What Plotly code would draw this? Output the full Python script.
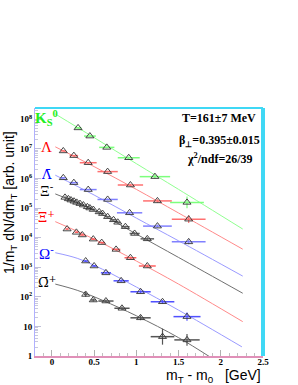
import math
import plotly.graph_objects as go

# ---------------- data ----------------
k0_x = [0.31, 0.45, 0.65, 0.91, 1.22, 1.60]
k0_y = [5.1e7, 2.7e7, 1.12e7, 5.0e6, 1.15e6, 1.55e5]
k0_xe = [0.04, 0.07, 0.09, 0.13, 0.18, 0.20]
k0_ye = [0.02, 0.02, 0.03, 0.04, 0.06, 0.20]

lam_x = [0.135, 0.26, 0.43, 0.66, 0.93, 1.25, 1.62]
lam_y = [8.5e6, 5.9e6, 3.4e6, 1.7e6, 6.0e5, 1.74e5, 4.2e4]
lam_xe = [0.03, 0.05, 0.10, 0.12, 0.15, 0.17, 0.20]
lam_ye = [0.02, 0.02, 0.02, 0.03, 0.04, 0.06, 0.13]

alam_x = [0.135, 0.26, 0.43, 0.66, 0.92, 1.25, 1.62]
alam_y = [1.05e6, 7.2e5, 4.2e5, 1.95e5, 6.9e4, 2.45e4, 7.2e3]
alam_xe = [0.03, 0.05, 0.10, 0.12, 0.15, 0.17, 0.20]
alam_ye = [0.02, 0.02, 0.02, 0.03, 0.04, 0.05, 0.08]

xi_x = [0.155, 0.195, 0.226, 0.262, 0.294, 0.333, 0.373, 0.42, 0.45, 0.49,
        0.56, 0.60, 0.66, 0.73, 0.78, 0.87, 0.98, 1.13]
xi_y = [2.29e5, 2.04e5, 1.86e5, 1.70e5, 1.55e5, 1.41e5, 1.26e5, 1.10e5, 1.0e5, 8.9e4,
        7.4e4, 6.5e4, 5.1e4, 4.0e4, 3.3e4, 2.34e4, 1.38e4, 9.1e3]
xi_xe = [0.015, 0.015, 0.015, 0.015, 0.015, 0.015, 0.015, 0.015, 0.015, 0.02,
         0.02, 0.02, 0.03, 0.03, 0.03, 0.05, 0.06, 0.08]
xi_ye = [0.02] * 15 + [0.03, 0.04, 0.05]

axi_x = [0.18, 0.29, 0.36, 0.49, 0.59, 0.76, 0.93, 1.13]
axi_y = [1.95e4, 1.51e4, 1.23e4, 8.9e3, 6.8e3, 4.0e3, 2.09e3, 1.10e3]
axi_xe = [0.02, 0.02, 0.03, 0.03, 0.04, 0.05, 0.07, 0.10]
axi_ye = [0.02, 0.02, 0.02, 0.03, 0.03, 0.03, 0.04, 0.05]

om_x = [0.40, 0.50, 0.64, 0.82, 1.05, 1.31, 1.60]
om_y = [1.62e3, 1.10e3, 645, 347, 148, 68, 21.4]
om_xe = [0.03, 0.03, 0.06, 0.09, 0.12, 0.14, 0.16]
om_ye = [0.03, 0.03, 0.03, 0.04, 0.05, 0.06, 0.14]

aom_x = [0.40, 0.49, 0.64, 0.83, 1.05, 1.31, 1.60]
aom_y = [120, 78, 72, 41, 19.5, 4.5, 3.5]
aom_xe = [0.02, 0.03, 0.09, 0.09, 0.12, 0.14, 0.15]
aom_ye = [0.08, 0.05, 0.05, 0.06, 0.08, 0.27, 0.20]

# blast-wave fit curves
fit_x = [0.04, 0.5, 1.0, 1.5, 2.26]
k0_fit = [1.51e8, 2.4e7, 3.16e6, 4.27e5, 1.95e4]
lam_fit = [1.17e7, 2.51e6, 4.27e5, 6.8e4, 4.07e3]
alam_fit = [1.29e6, 2.75e5, 4.57e4, 7.8e3, 501]
xi_fit = [3.0e5, 8.3e4, 1.32e4, 2.14e3, 132]
axi_fit = [3.47e4, 8.9e3, 1.62e3, 269, 14.5]
om_fit_x = [0.04, 0.3, 0.6, 1.0, 1.5, 2.25]
om_fit = [3.09e3, 2.0e3, 851, 214, 35.5, 2.04]
aom_fit_x = [0.04, 0.3, 0.6, 1.0, 1.5, 1.88]
aom_fit = [269, 166, 76, 22.9, 4.17, 0.9]

x_tickvals = [0, 0.5, 1, 1.5, 2, 2.5]
x_ticktext = ["0", "0.5", "1", "1.5", "2", "2.5"]
y_tickvals = [1, 10, 1e2, 1e3, 1e4, 1e5, 1e6, 1e7, 1e8]
y_ticktext = ["1", "10", "10<sup>2</sup>", "10<sup>3</sup>", "10<sup>4</sup>",
              "10<sup>5</sup>", "10<sup>6</sup>", "10<sup>7</sup>", "10<sup>8</sup>"]

SERIF = "Liberation Serif"
SERIF2 = "DejaVu Serif"
series = [
    # x, y, xe, ye, fitx, fity, line color, err color, label, label color, label y, label font
    (k0_x, k0_y, k0_xe, k0_ye, fit_x, k0_fit, "#90ff90", "#7dff7d", "<b>K<sub>S</sub><sup>0</sup></b>", "#22ee22", 1.1e8, SERIF),
    (lam_x, lam_y, lam_xe, lam_ye, fit_x, lam_fit, "#ff8a8a", "#ff7070", "Λ", "#ff0000", 1.15e7, SERIF),
    (alam_x, alam_y, alam_xe, alam_ye, fit_x, alam_fit, "#9a9aff", "#8080ff", "Λ\u0304", "#0000ff", 1.4e6, SERIF2),
    (xi_x, xi_y, xi_xe, xi_ye, fit_x, xi_fit, "#707070", "#606060", "Ξ<sup>-</sup>", "#000000", 4.0e5, SERIF),
    (axi_x, axi_y, axi_xe, axi_ye, fit_x, axi_fit, "#ff8a8a", "#ff6060", "Ξ\u0304<sup>+</sup>", "#ff0000", 5.0e4, SERIF2),
    (om_x, om_y, om_xe, om_ye, om_fit_x, om_fit, "#9a9aff", "#5050ff", "Ω<sup>-</sup>", "#0000ff", 3.0e3, SERIF),
    (aom_x, aom_y, aom_xe, aom_ye, aom_fit_x, aom_fit, "#707070", "#555555", "Ω\u0304<sup>+</sup>", "#000000", 3.2e2, SERIF2),
]

fig = go.Figure()
annotations = []
for (x, y, xe, ye, fx, fy, lc, ec, lab, labc, laby, lfont) in series:
    fig.add_trace(go.Scatter(x=fx, y=fy, mode="lines", line=dict(color=lc, width=1, shape="spline"),
                             hoverinfo="skip", showlegend=False))
    up = [v * (10 ** e - 1) for v, e in zip(y, ye)]
    dn = [v * (1 - 10 ** -e) for v, e in zip(y, ye)]
    fig.add_trace(go.Scatter(
        x=x, y=y, mode="markers",
        marker=dict(symbol="triangle-up-open", size=7, color="#333333", line=dict(width=0.9)),
        error_x=dict(type="data", array=xe, color=ec, thickness=1.5, width=0),
        error_y=dict(type="data", array=up, arrayminus=dn, symmetric=False, color=ec, thickness=1.2, width=0),
        showlegend=False))
    annotations.append(dict(x=-0.06, y=math.log10(laby), xref="x", yref="y", text=lab,
                            showarrow=False,
                            font=dict(family=lfont, size=15 if lfont == SERIF else 13, color=labc),
                            xanchor="center", yanchor="middle"))

info_font = dict(family="Liberation Serif", size=12, color="#000000", weight="bold")
annotations += [
    dict(x=0.808, y=1.0 - 10 / 248, xref="paper", yref="paper", text="T=161±7 MeV", showarrow=False,
         font=info_font, xanchor="center", yanchor="middle"),
    dict(x=0.808, y=1.0 - 33 / 248, xref="paper", yref="paper", text="β<sub>⊥</sub>=0.395±0.015",
         showarrow=False, font=info_font, xanchor="center", yanchor="middle"),
    dict(x=0.812, y=1.0 - 50 / 248, xref="paper", yref="paper", text="χ<sup>2</sup>/ndf=26/39",
         showarrow=False, font=info_font, xanchor="center", yanchor="middle"),
    # axis titles
    dict(x=1.0, y=-9 / 248, xref="paper", yref="paper",
         text="m<sub>T</sub> - m<sub>0</sub>\u00a0\u00a0\u00a0[GeV]", showarrow=False,
         font=dict(family="Liberation Sans", size=14, color="black"), xanchor="right", yanchor="top"),
    dict(x=-25 / 228, y=(356 - 203) / 248, xref="paper", yref="paper", textangle=-90,
         text="1/m<sub>T</sub> dN/dm<sub>T</sub> [arb. unit]", showarrow=False,
         font=dict(family="Liberation Sans", size=14, color="black"), xanchor="center", yanchor="middle"),
]

fig.update_layout(
    width=298, height=385,
    margin=dict(l=35, r=35, t=108, b=29, autoexpand=False),
    paper_bgcolor="white", plot_bgcolor="white",
    annotations=annotations,
    xaxis=dict(range=[-0.2, 2.5], tickvals=x_tickvals, ticktext=x_ticktext, automargin=False,
               ticks="inside", ticklen=6, tickcolor="#b0b0b0", tickwidth=1,
               minor=dict(dtick=0.1, ticks="inside", ticklen=3, tickcolor="#c0c0c0"),
               showgrid=False, zeroline=False, showline=True, linecolor="#e090b8", linewidth=2,
               ticklabelstandoff=-4,
               tickfont=dict(family="Liberation Serif", size=9, color="black", weight="bold")),
    yaxis=dict(type="log", range=[0, 8.38], tickvals=y_tickvals, ticktext=y_ticktext, automargin=False,
               ticks="inside", ticklen=6, tickcolor="#c0c0d8", tickwidth=1,
               minor=dict(dtick="D1", ticks="inside", ticklen=3, tickcolor="#c8c8dc"),
               showgrid=False, zeroline=False, showline=True, linecolor="#b0b0ff", linewidth=1,
               tickfont=dict(family="Liberation Serif", size=9, color="black", weight="bold")),
    shapes=[
        dict(type="line", xref="paper", yref="paper", x0=0, x1=1, y0=1, y1=1,
             line=dict(color="#3fd8f5", width=2)),
        dict(type="line", xref="paper", yref="paper", x0=1, x1=1, y0=0, y1=1,
             line=dict(color="#3fd8f5", width=4)),
    ],
)

fig.write_html("out.html", config={"displayModeBar": False},
               post_script="document.body.style.margin='0';document.body.style.overflow='hidden';")
